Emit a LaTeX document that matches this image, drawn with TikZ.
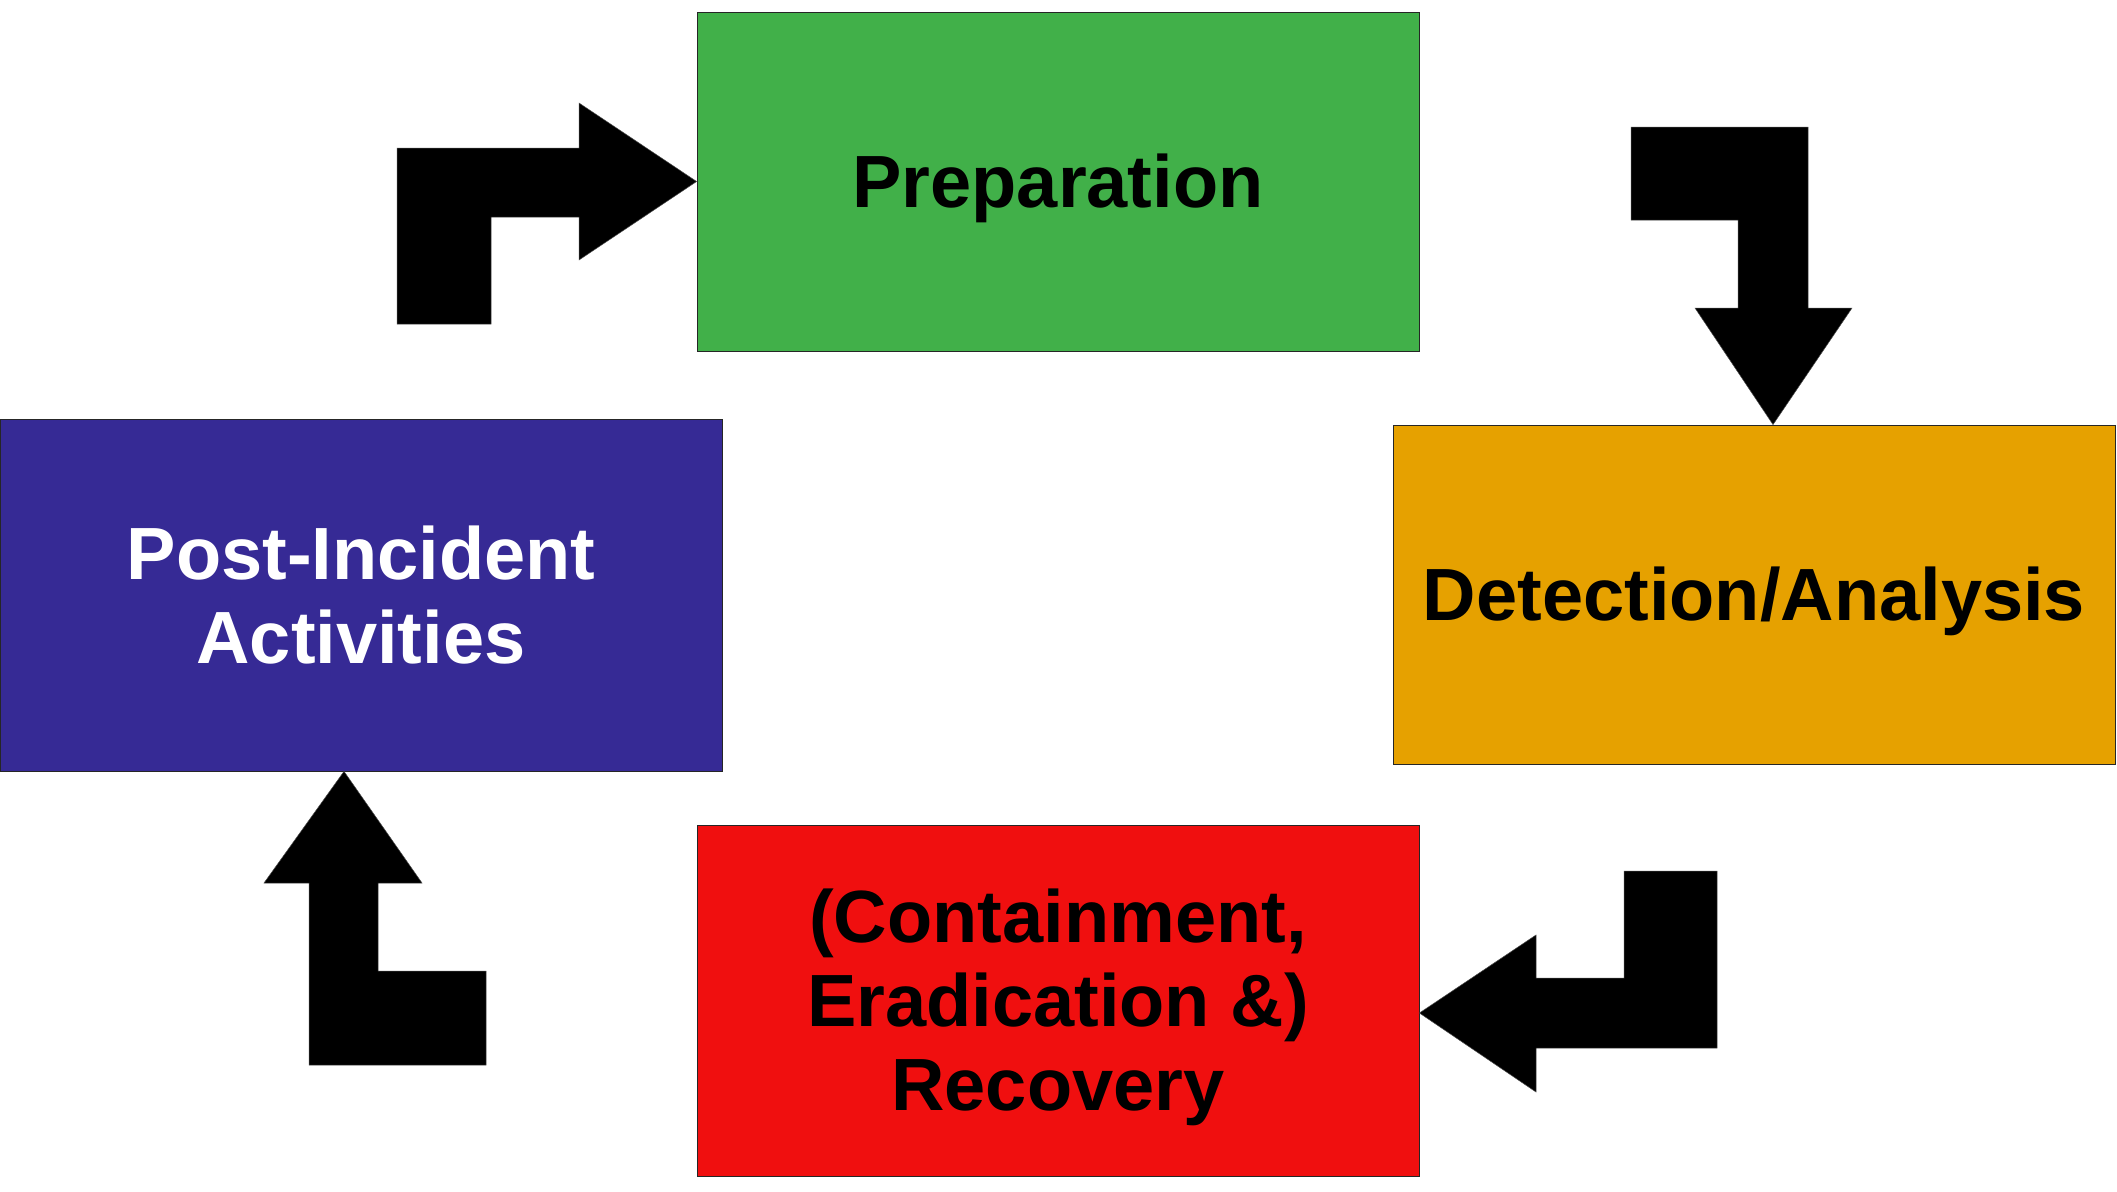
\documentclass[tikz,border=0pt]{standalone}
\usepackage{fontspec}
\setmainfont{Liberation Sans}
\definecolor{cgreen}{RGB}{65,176,73}
\definecolor{corange}{RGB}{230,161,0}
\definecolor{cred}{RGB}{240,15,15}
\definecolor{cblue}{RGB}{54,42,149}
\begin{document}
\begin{tikzpicture}[x=1pt,y=-1pt,
  phase/.style={draw=black!85,line width=0.8pt,inner sep=0pt,align=center,
    font=\fontsize{74}{84}\selectfont\bfseries},
  phasetext/.style={inner sep=0pt,align=center,font=\fontsize{74}{84}\selectfont\bfseries},
  blockarrow/.style={fill=black,draw=black!70,line width=0.5pt}]
\useasboundingbox (0,0) rectangle (2117,1191);
\fill[white] (0,0) rectangle (2117,1191);
\node[phase,fill=cgreen,minimum width=722pt,minimum height=339pt] (prep) at (1058,181.5) {};
\node[phasetext,yshift=-7pt] (preptext) at (prep.center) {Preparation};
\node[phase,fill=corange,minimum width=722pt,minimum height=339pt] (det) at (1754,594.5) {};
\node[phasetext,yshift=-7pt] (dettext) at (det.center) {Detection/Analysis};
\node[phase,fill=cred,minimum width=722pt,minimum height=351pt] (cont) at (1058,1000.5) {};
\node[phasetext,yshift=-7pt] (conttext) at (cont.center) {(Containment,\\Eradication \&)\\Recovery};
\node[phase,fill=cblue,text=white,minimum width=722pt,minimum height=352pt] (post) at (361,595) {Post-Incident\\Activities};
% arrow post -> prep
\coordinate (t1) at (prep.west);
\filldraw[blockarrow] (397,324) -- (397,148) -- (579,148) -- (579,103) -- (t1) -- (579,260) -- (579,217) -- (491,217) -- (491,324) -- cycle;
% arrow prep -> det
\coordinate (t2) at (det.north -| 1773,0);
\filldraw[blockarrow] (1631,127) -- (1808,127) -- (1808,308) -- (1852,308) -- (t2) -- (1695,308) -- (1738,308) -- (1738,220) -- (1631,220) -- cycle;
% arrow det -> cont
\coordinate (t3) at (cont.east |- 0,1013);
\filldraw[blockarrow] (1717,871) -- (1717,1048) -- (1536,1048) -- (1536,1092) -- (t3) -- (1536,935) -- (1536,978) -- (1624,978) -- (1624,871) -- cycle;
% arrow cont -> post
\coordinate (t4) at (post.south -| 344,0);
\filldraw[blockarrow] (486,1065) -- (309,1065) -- (309,883) -- (264,883) -- (t4) -- (422,883) -- (378,883) -- (378,971) -- (486,971) -- cycle;
\end{tikzpicture}
\end{document}
